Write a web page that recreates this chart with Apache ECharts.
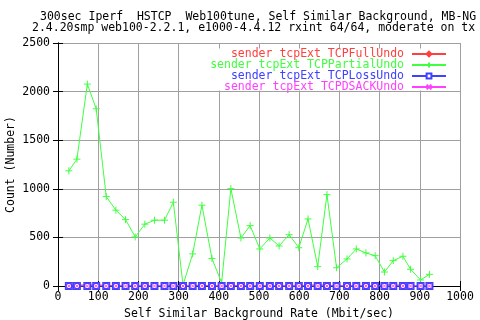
<!DOCTYPE html>
<html>
<head>
<meta charset="utf-8">
<script src="https://cdn.jsdelivr.net/npm/echarts@6/dist/echarts.min.js"></script>
<style>
  html, body { margin: 0; padding: 0; background: #fff; }
  #chart { width: 480px; height: 320px; }
</style>
</head>
<body>
<div id="chart"></div>
<script>
// background rate (Mbit/sec) for each measurement
const rates = [27, 47, 73, 95, 120, 144, 168, 192, 216, 240, 265, 287, 311, 335, 358, 383,
  407, 430, 455, 478, 502, 527, 550, 575, 599, 622, 646, 669, 693, 719, 742, 766, 789,
  812, 834, 858, 877, 902, 924]

const fullUndo = [0, 10, 10, 10, 8, 0, 0, 0, 0, 0, 0, 10, 0, 0, 10, 0,
  0, 10, 0, 0, 0, 0, 0, 0, 0, 10, 10, 10, 0, 0, 0, 0, 0,
  10, 10, 10, 0, 0, 0]
const partialUndo = [1185, 1305, 2077, 1823, 920, 780, 683, 505, 636, 677, 677, 862, 10, 330, 831, 283,
  34, 1002, 494, 621, 381, 494, 412, 528, 394, 690, 199, 940, 188, 278, 381, 340, 312,
  144, 261, 306, 172, 62, 120]
const lossUndo = rates.map(() => 0)
const dsackUndo = rates.map(() => 0)

const names = ['sender tcpExt TCPFullUndo', 'sender tcpExt TCPPartialUndo',
  'sender tcpExt TCPLossUndo', 'sender tcpExt TCPDSACKUndo']
const colors = ['#ff4040', '#40ff40', '#4040ff', '#ff40ff']

const font = 'DejaVu Sans Mono'
const pairs = vals => rates.map((r, i) => [r, vals[i]])

const plusPath = 'path://M5,0 L5,10 M0,5 L10,5'
const crossPath = 'path://M0,0 L10,10 M10,0 L0,10'

const chart = echarts.init(document.getElementById('chart'))

const lineSeries = (i, data, symbol, size) => ({
  name: names[i],
  type: 'line',
  data: data,
  symbol: symbol,
  symbolSize: size,
  showAllSymbol: true,
  animation: false,
  lineStyle: { color: colors[i], width: 1 },
  itemStyle: { color: colors[i], borderColor: colors[i], borderWidth: 1 }
})

const axisCommon = {
  type: 'value',
  axisLine: { show: true, lineStyle: { color: '#000', width: 1 } },
  axisTick: { show: true, inside: true, length: 5, lineStyle: { color: '#000' } },
}
const plain = v => String(v)

const option = {
  backgroundColor: '#fff',
  animation: false,
  title: [
    { text: '300sec Iperf  HSTCP  Web100tune, Self Similar Background, MB-NG',
      left: 40, top: 11, padding: 0,
      textStyle: { fontFamily: font, fontSize: 11.5, fontWeight: 'normal', color: '#000' } },
    { text: '2.4.20smp web100-2.2.1, e1000-4.4.12 rxint 64/64, moderate on tx',
      left: 32, top: 22, padding: 0,
      textStyle: { fontFamily: font, fontSize: 11.5, fontWeight: 'normal', color: '#000' } }
  ],
  grid: { left: 58, right: 20, top: 43, bottom: 34, outerBoundsMode: 'none', containLabel: false },
  legend: {
    orient: 'vertical',
    right: 33,
    top: 48,
    align: 'right',
    itemWidth: 34,
    itemHeight: 6,
    itemGap: -1,
    padding: 0,
    data: names.map((n, i) => ({ name: n, textStyle: { color: colors[i] } })),
    textStyle: { fontFamily: font, fontSize: 11.5, lineHeight: 10, padding: [0, 3, 0, 0] }
  },
  graphic: [{
    type: 'rect', z: 1,
    shape: { x: 200, y: 48.5, width: 259, height: 42 },
    style: { fill: '#fff' }
  }],
  xAxis: [
    Object.assign({}, axisCommon, {
      position: 'bottom', min: 0, max: 1000, interval: 100,
      name: 'Self Similar Background Rate (Mbit/sec)',
      nameLocation: 'middle', nameGap: 21,
      nameTextStyle: { fontFamily: font, fontSize: 11.5, color: '#000' },
      axisLabel: { fontFamily: font, fontSize: 11.5, color: '#000', margin: 5, formatter: plain },
      splitLine: { show: true, lineStyle: { color: '#a0a0a0', width: 1 } }
    }),
    Object.assign({}, axisCommon, {
      position: 'top', min: 0, max: 1000, interval: 100,
      axisLabel: { show: false }, splitLine: { show: false }
    })
  ],
  yAxis: [
    Object.assign({}, axisCommon, {
      position: 'left', min: 0, max: 2500, interval: 500,
      name: 'Count (Number)',
      nameLocation: 'middle', nameGap: 41, nameMoveOverlap: false,
      nameTextStyle: { fontFamily: font, fontSize: 11.5, color: '#000' },
      axisLabel: { fontFamily: font, fontSize: 11.5, color: '#000', margin: 8, formatter: plain },
      splitLine: { show: true, lineStyle: { color: '#a0a0a0', width: 1 } }
    }),
    Object.assign({}, axisCommon, {
      position: 'right', min: 0, max: 2500, interval: 500,
      axisLabel: { show: false }, splitLine: { show: false }
    })
  ],
  series: [
    lineSeries(0, pairs(fullUndo), 'diamond', 4),
    lineSeries(1, pairs(partialUndo), plusPath, 7),
    Object.assign(lineSeries(2, pairs(lossUndo), 'emptyRect', 6), { itemStyle: { color: colors[2], borderColor: colors[2], borderWidth: 1 } }),
    lineSeries(3, pairs(dsackUndo), crossPath, 5)
  ]
}

chart.setOption(option)
</script>
</body>
</html>
